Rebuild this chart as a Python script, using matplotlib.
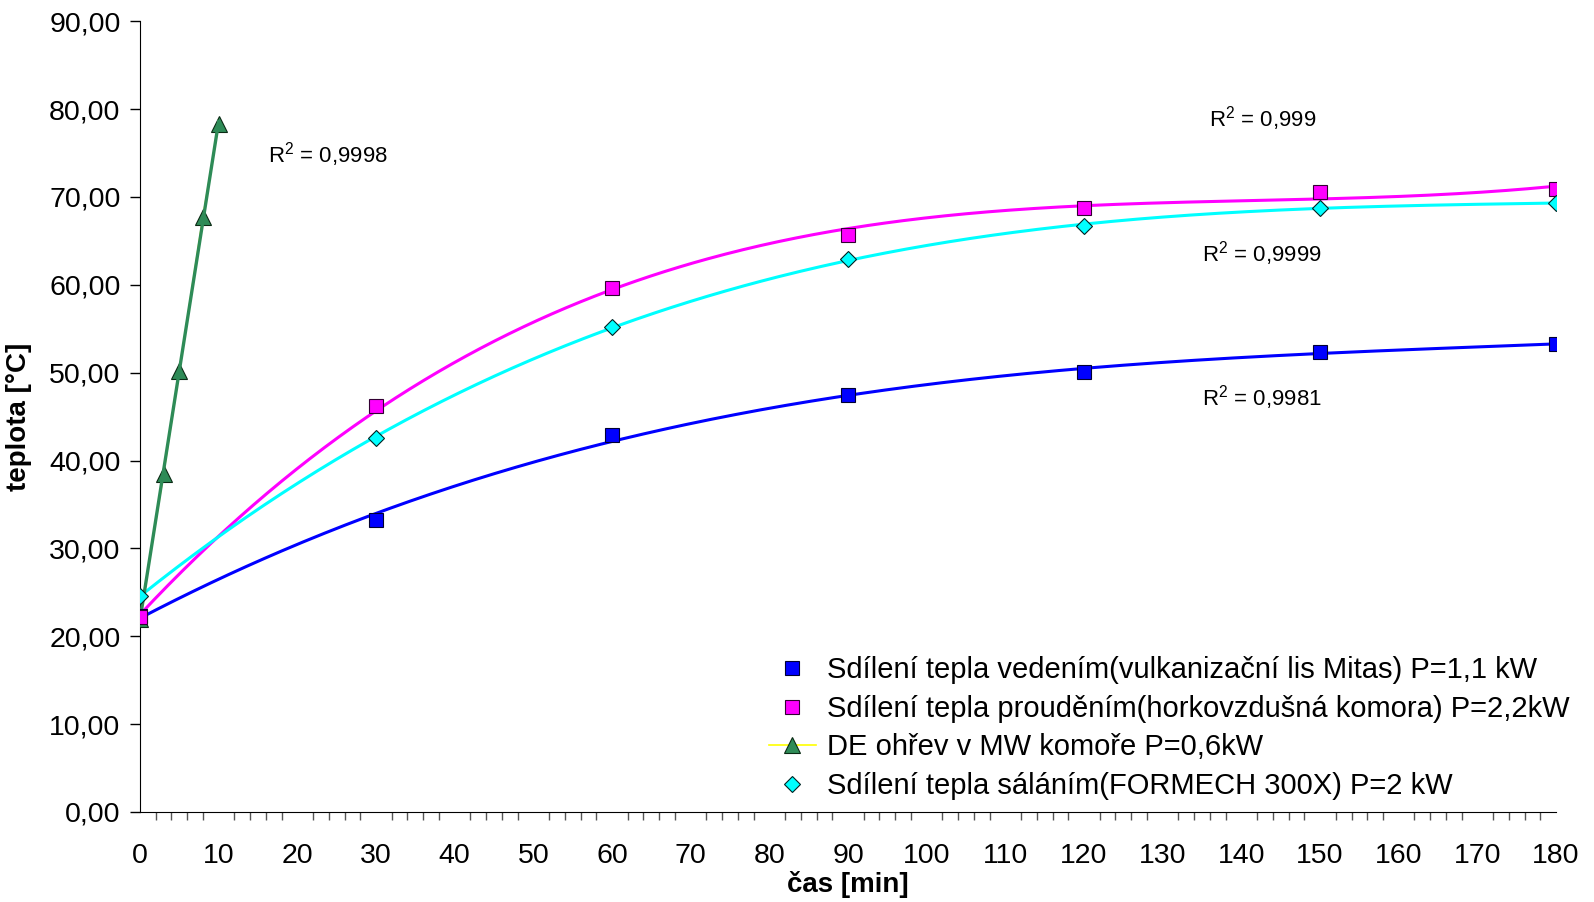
import numpy as np
import matplotlib
matplotlib.use("Agg")
import matplotlib.pyplot as plt
from matplotlib.ticker import MultipleLocator, FuncFormatter

plt.rcParams['font.family'] = ['Liberation Sans', 'DejaVu Sans']
plt.rcParams['mathtext.fontset'] = 'custom'
plt.rcParams['mathtext.rm'] = 'Liberation Sans'

# data
t_main = [0, 30, 60, 90, 120, 150, 180]
vedeni = [22.3, 33.2, 42.9, 47.5, 50.1, 52.3, 53.3]
proudeni = [22.2, 46.2, 59.6, 65.7, 68.8, 70.6, 70.9]
salani = [24.6, 42.6, 55.2, 62.9, 66.7, 68.8, 69.3]
t_mw = [0, 3, 5, 8, 10]
mw = [22.0, 38.5, 50.2, 67.7, 78.3]

labels = ["Sdílení tepla vedením(vulkanizační lis Mitas) P=1,1 kW",
          "Sdílení tepla prouděním(horkovzdušná komora) P=2,2kW",
          "DE ohřev v MW komoře P=0,6kW",
          "Sdílení tepla sáláním(FORMECH 300X) P=2 kW"]
r2_texts = ["R$^2$ = 0,9998", "R$^2$ = 0,999", "R$^2$ = 0,9999", "R$^2$ = 0,9981"]
r2_pos = [(16.3, 74.8), (135.9, 78.9), (135.0, 63.6), (135.0, 47.2)]

fig = plt.figure(figsize=(15.94, 9.02), dpi=100)
ax = fig.add_axes([0.0878, 0.0998, 0.8884, 0.8766])

# polynomial trendlines (like Excel)
tt = np.linspace(0, 180, 400)
for y, c in [(vedeni, '#0000FF'), (proudeni, '#FF00FF'), (salani, '#00FFFF')]:
    p = np.polyfit(t_main, y, 3)
    ax.plot(tt, np.polyval(p, tt), color=c, lw=2.2, zorder=2)
tm = np.linspace(0, 10, 50)
pm = np.polyfit(t_mw, mw, 1)

ax.plot(t_main, vedeni, ls='none', marker='s', ms=10, mfc='#0000FF', mec='#000033',
        mew=0.8, label=labels[0], zorder=4)
ax.plot(t_main, proudeni, ls='none', marker='s', ms=10, mfc='#FF00FF', mec='#330033',
        mew=0.8, label=labels[1], zorder=4)
ax.plot(t_mw, mw, color='#FFFF00', lw=1.2, marker='^', ms=11, mfc='#2E8B57', mec='#0a2a14',
        mew=0.8, label=labels[2], zorder=3)
ax.plot(tm, np.polyval(pm, tm), color='#2E8B57', lw=2.4, zorder=3.5)
ax.plot(t_main, salani, ls='none', marker='D', ms=8, mfc='#00FFFF', mec='#002222',
        mew=0.8, label=labels[3], zorder=4)

for s, (x, y) in zip(r2_texts, r2_pos):
    ax.text(x, y, s, fontsize=16, ha='left', va='center')

ax.set_xlim(0, 180)
ax.set_ylim(0, 90)
ax.xaxis.set_major_locator(MultipleLocator(10))
ax.xaxis.set_minor_locator(MultipleLocator(2))
ax.yaxis.set_major_locator(MultipleLocator(10))
ax.yaxis.set_major_formatter(FuncFormatter(lambda v, p: f"{v:.2f}".replace('.', ',')))
ax.tick_params(axis='both', which='major', labelsize=20.5, length=7, width=1, direction='out')
ax.tick_params(axis='y', which='major', pad=7)
ax.tick_params(axis='x', which='major', length=0, pad=22)
ax.tick_params(axis='x', which='minor', length=6, width=1, color='#555555')
for sp in ['top', 'right']:
    ax.spines[sp].set_visible(False)

ax.set_xlabel("čas [min]", fontsize=20, fontweight='bold', labelpad=2)
ax.set_ylabel("teplota [°C]", fontsize=20, fontweight='bold', labelpad=12)

ax.legend(loc='lower left', bbox_to_anchor=(0.434, -0.003), frameon=False, fontsize=21,
          handlelength=1.6, handletextpad=0.4, labelspacing=0.36, borderpad=0)

fig.savefig("out.png", dpi=100)
